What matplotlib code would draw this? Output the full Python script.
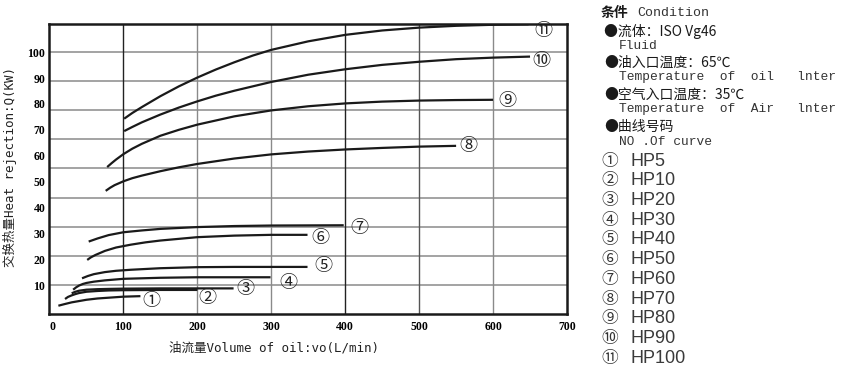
import numpy as np
import matplotlib.pyplot as plt

# 油流量 (L/min) - 交换热量 (KW)
hp5_x = [12, 20, 30, 40, 50, 65, 80, 100, 123]
hp5_y = [2.0, 2.6, 3.3, 3.8, 4.3, 4.8, 5.1, 5.5, 5.7]
hp10_x = [21, 25, 30, 35, 40, 50, 65, 80, 100, 150, 200]
hp10_y = [4.6, 5.4, 6.0, 6.5, 6.9, 7.4, 7.7, 7.9, 8.0, 8.1, 8.1]
hp20_x = [30, 35, 40, 50, 65, 80, 100, 150, 249]
hp20_y = [6.8, 7.4, 7.8, 8.2, 8.4, 8.5, 8.6, 8.7, 8.7]
hp30_x = [32, 36, 40, 45, 50, 60, 75, 100, 150, 200, 299]
hp30_y = [8.2, 9.1, 9.8, 10.4, 10.8, 11.3, 11.8, 12.4, 12.8, 13.0, 13.0]
hp40_x = [44, 52, 60, 75, 90, 110, 150, 200, 250, 349]
hp40_y = [12.6, 13.5, 14.2, 15.0, 15.5, 15.9, 16.5, 16.9, 17.0, 17.0]
hp50_x = [51, 56, 62, 75, 90, 110, 130, 150, 200, 250, 300, 349]
hp50_y = [19.7, 20.7, 21.6, 23.2, 24.5, 25.6, 26.5, 27.2, 28.5, 29.1, 29.4, 29.4]
hp60_x = [53, 65, 80, 100, 125, 150, 200, 250, 300, 398]
hp60_y = [26.8, 28.0, 29.3, 30.4, 31.1, 31.7, 32.4, 32.8, 33.0, 33.1]
hp70_x = [76, 82, 88, 100, 112, 125, 150, 175, 200, 250, 300, 350, 400, 450, 500, 550]
hp70_y = [46.4, 47.6, 48.6, 50.1, 51.3, 52.3, 54.0, 55.5, 56.8, 58.9, 60.5, 61.6, 62.4, 63.0, 63.5, 63.8]
hp80_x = [78, 84, 90, 100, 112, 125, 150, 175, 200, 250, 300, 350, 400, 450, 500, 550, 600]
hp80_y = [55.6, 57.1, 58.5, 60.6, 62.7, 64.6, 67.7, 70.0, 72.0, 75.2, 77.5, 79.1, 80.2, 80.9, 81.3, 81.5, 81.6]
hp90_x = [101, 112, 125, 150, 175, 200, 225, 250, 300, 350, 400, 450, 500, 550, 600, 650]
hp90_y = [69.5, 71.1, 72.9, 75.9, 78.6, 81.0, 83.2, 85.1, 88.5, 91.3, 93.4, 95.1, 96.3, 97.3, 97.9, 98.3]
hp100_x = [101, 112, 125, 150, 175, 200, 225, 250, 275, 300, 350, 400, 450, 500, 550, 600, 648]
hp100_y = [74.3, 76.5, 78.8, 83.0, 86.8, 90.2, 93.3, 96.1, 98.7, 100.9, 104.2, 106.7, 108.4, 109.5, 110.2, 110.6, 110.8]

curve_no = ['①', '②', '③', '④', '⑤', '⑥', '⑦', '⑧', '⑨', '⑩', '⑪']
models = ['HP5', 'HP10', 'HP20', 'HP30', 'HP40', 'HP50', 'HP60', 'HP70', 'HP80', 'HP90', 'HP100']

x_ticks = [0, 100, 200, 300, 400, 500, 600, 700]
y_ticks = [10, 20, 30, 40, 50, 60, 70, 80, 90, 100]

cond_cn = ['●流体：ISO Vg46', '●油入口温度：65℃', '●空气入口温度：35℃', '●曲线号码']
cond_en = ['Fluid', 'Temperature  of  oil   lnter', 'Temperature  of  Air   lnter', 'NO .Of curve']

curves_x = [hp5_x, hp10_x, hp20_x, hp30_x, hp40_x, hp50_x, hp60_x, hp70_x, hp80_x, hp90_x, hp100_x]
curves_y = [hp5_y, hp10_y, hp20_y, hp30_y, hp40_y, hp50_y, hp60_y, hp70_y, hp80_y, hp90_y, hp100_y]

# 标号相对曲线末端的偏移 (像素)
label_off = [(11, -5), (10, -8), (12, -1), (18, -6), (16, 1), (13, -3),
             (16, -3), (12, 0), (14, -1), (11, -4), (15, -7)]

W, H = 845, 369
fig = plt.figure(figsize=(W / 100, H / 100), dpi=100)
ax = fig.add_axes([49.5 / W, 1 - 314 / H, (567 - 49.5) / W, (314 - 24) / H])
ax.set_xlim(0, 700)
ax.set_ylim(-1.2, 110.9)

# 网格 (原图的横线与刻度不完全对齐)
grid_y = np.linspace(100.2, 9.9, 9)
for gy in grid_y:
    ax.axhline(gy, color='#8a8a8a', lw=1.1, zorder=1)
vcols = ['#222222', '#8a8a8a', '#8a8a8a', '#222222', '#555555', '#8a8a8a']
for gx, c in zip(x_ticks[1:-1], vcols):
    ax.axvline(gx, color=c, lw=1.0, zorder=1)

for i in range(len(curves_x)):
    ax.plot(curves_x[i], curves_y[i], color='#1a1a1a', lw=1.6,
            solid_capstyle='butt', solid_joinstyle='round', zorder=3)
    ax.annotate(curve_no[i], (curves_x[i][-1], curves_y[i][-1]),
                xytext=label_off[i], textcoords='offset pixels',
                ha='center', va='center', fontsize=13,
                family=['Noto Sans CJK SC'], color='#222222', zorder=4)

for s in ax.spines.values():
    s.set_linewidth(1.8)
    s.set_color('#1a1a1a')

ax.set_xticks(x_ticks)
ax.set_yticks(y_ticks)
ax.tick_params(length=0, pad=5)
ax.tick_params(axis='y', pad=3)
for t in ax.get_xticklabels() + ax.get_yticklabels():
    t.set_family('Liberation Serif')
    t.set_fontweight('bold')
    t.set_fontsize(8.5)
ax.get_xticklabels()[0].set_horizontalalignment('left')

lab_font = ['DejaVu Sans Mono', 'Noto Sans CJK SC']
fig.text(274 / W, 1 - 348 / H, '油流量Volume of oil:vo(L/min)', family=lab_font,
         fontsize=9, ha='center', va='center', color='#222222')
fig.text(10 / W, 1 - 167 / H, '交换热量Heat rejection:Q(KW)', family=lab_font,
         fontsize=9, ha='center', va='center', rotation=90, color='#222222')

# 右侧说明
cjk = ['Noto Sans CJK SC', 'DejaVu Sans']
fig.text(601 / W, 1 - 12.7 / H, '条件', family=cjk, fontsize=10, fontweight='bold',
         ha='left', va='center', color='#1a1a1a')
fig.text(637 / W, 1 - 13.5 / H, 'Condition', family='Liberation Mono', fontsize=9.5,
         ha='left', va='center', color='#333333')
cn_y = [31.7, 62.7, 95.0, 126.7]
en_y = [45.7, 77.3, 109.3, 141.7]
for i in range(4):
    fig.text(604 / W, 1 - cn_y[i] / H, cond_cn[i], family=cjk, fontsize=10,
             ha='left', va='center', color='#1a1a1a')
    fig.text(619 / W, 1 - en_y[i] / H, cond_en[i], family='Liberation Mono', fontsize=9.3,
             ha='left', va='center', color='#333333')
for i in range(len(models)):
    yy = 161 + i * 19.73
    fig.text(601 / W, 1 - yy / H, curve_no[i], family=cjk, fontsize=12,
             ha='left', va='center', color='#333333')
    fig.text(631 / W, 1 - yy / H, models[i], family='Liberation Sans', fontsize=13,
             ha='left', va='center', color='#3a3a3a')

fig.savefig('out.png', dpi=100)
